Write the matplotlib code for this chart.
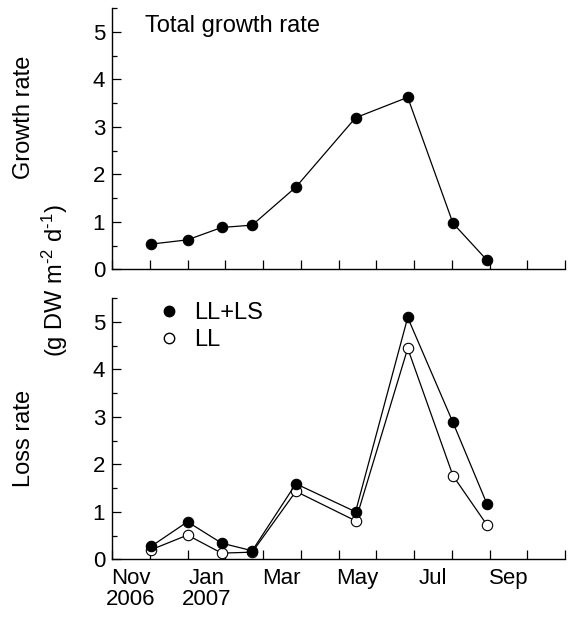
"""Growth and loss rates, Nov 2006 - Oct 2007, two stacked panels."""

import datetime as dt

import matplotlib

matplotlib.use("Agg")
import matplotlib.pyplot as plt
from matplotlib.lines import Line2D
from matplotlib.ticker import FixedLocator, MultipleLocator

# ---- data ----
sample_dates = [
    "2006-12-02", "2007-01-01", "2007-01-29", "2007-02-21", "2007-03-28",
    "2007-05-15", "2007-06-26", "2007-08-02", "2007-08-30",
]
total_growth = [0.53, 0.62, 0.88, 0.93, 1.73, 3.19, 3.62, 0.97, 0.19]
loss_ll_ls = [0.27, 0.79, 0.34, 0.18, 1.59, 1.00, 5.09, 2.88, 1.16]
loss_ll = [0.20, 0.51, 0.13, 0.15, 1.43, 0.81, 4.44, 1.76, 0.72]

month_labels = ["Nov\n2006", "Jan\n2007", "Mar", "May", "Jul", "Sep"]
label_months = [0, 2, 4, 6, 8, 10]  # months after Nov 2006

START = dt.date(2006, 11, 1)


def month_position(date_str):
    """Months since 1 Nov 2006, each month being one equal unit."""
    d = dt.date.fromisoformat(date_str)
    months = (d.year - START.year) * 12 + d.month - START.month
    nxt = dt.date(d.year + d.month // 12, d.month % 12 + 1, 1)
    days_in_month = (nxt - d.replace(day=1)).days
    return months + (d.day - 1) / days_in_month


x = [month_position(s) for s in sample_dates]

plt.rcParams["font.family"] = ["Liberation Sans", "DejaVu Sans"]
plt.rcParams["mathtext.fontset"] = "custom"
plt.rcParams["mathtext.rm"] = "Liberation Sans"
plt.rcParams["mathtext.it"] = "Liberation Sans"

W, H = 572, 617
fig = plt.figure(figsize=(W / 100, H / 100), dpi=100)
ax_top = fig.add_axes([112 / W, 1 - 269.3 / H, 453 / W, 261.3 / H])
ax_bot = fig.add_axes([112 / W, 1 - 559.3 / H, 453 / W, 261.3 / H])

LW = 0.9
MS = 7.5

ax_top.plot(x, total_growth, color="black", lw=LW, marker="o", ms=MS,
            mfc="black", mec="black", mew=0.8, zorder=3)

ax_bot.plot(x, loss_ll, color="black", lw=LW, marker="o", ms=MS,
            mfc="white", mec="black", mew=0.8, zorder=3)
ax_bot.plot(x, loss_ll_ls, color="black", lw=LW, marker="o", ms=MS,
            mfc="black", mec="black", mew=0.8, zorder=4)

for ax in (ax_top, ax_bot):
    ax.set_xlim(0, 12)
    ax.set_ylim(0, 5.5)
    for side in ("top", "right"):
        ax.spines[side].set_visible(False)
    for side in ("left", "bottom"):
        ax.spines[side].set_linewidth(1.0)
    ax.yaxis.set_major_locator(MultipleLocator(1))
    ax.yaxis.set_minor_locator(MultipleLocator(0.5))
    ax.xaxis.set_major_locator(MultipleLocator(1))
    ax.tick_params(axis="both", which="major", direction="in", length=6.5,
                   width=0.9, labelsize=16, pad=5)
    ax.tick_params(axis="y", which="minor", direction="in", length=3.5,
                   width=0.9)
    ax.set_xticklabels([])
    ax.xaxis.set_minor_locator(FixedLocator([m + 0.5 for m in label_months]))
    ax.tick_params(axis="x", which="minor", length=0, labelsize=16, pad=6)

ax_bot.set_xticklabels(month_labels, minor=True)
for lbl in ax_bot.get_xticklabels(minor=True):
    lbl.set_linespacing(1.05)

ax_top.text(0.073, 0.908, "Total growth rate", transform=ax_top.transAxes,
            fontsize=17, ha="left", va="baseline")

handles = [
    Line2D([], [], ls="none", marker="o", ms=MS, mfc="black", mec="black"),
    Line2D([], [], ls="none", marker="o", ms=MS, mfc="white", mec="black"),
]
ax_bot.legend(handles, ["LL+LS", "LL"], loc="upper left",
              bbox_to_anchor=(0.078, 1.02), frameon=False, fontsize=17,
              handlelength=1.0, handletextpad=0.6, labelspacing=0.2,
              borderaxespad=0.0)

fig.text(24 / W, 1 - 117 / H, "Growth rate", rotation=90, fontsize=17,
         ha="center", va="center")
fig.text(55 / W, 1 - 281 / H, "(g DW m$^{\u20102}$ d$^{\u20101}$)",
         rotation=90, fontsize=17, ha="center", va="center")
fig.text(24 / W, 1 - 438 / H, "Loss rate", rotation=90, fontsize=17,
         ha="center", va="center")

fig.savefig("out.png", dpi=100)
plt.close(fig)
